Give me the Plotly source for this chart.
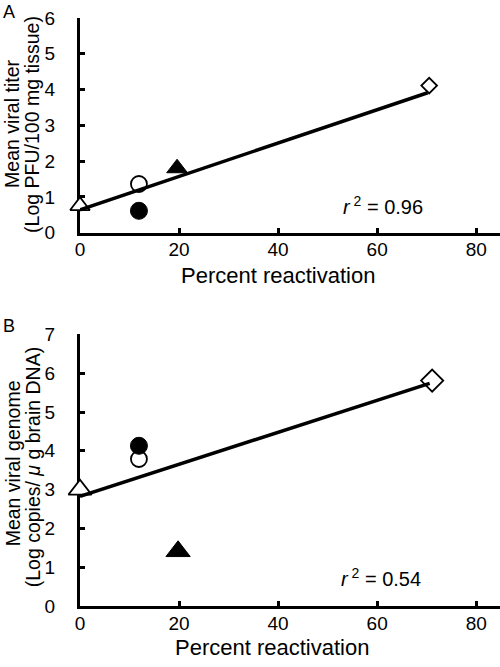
import plotly.graph_objects as go

# ---------------- data ----------------
# Panel A: mean viral titer (Log PFU/100 mg tissue) vs percent reactivation
a_open_tri = ([0.0], [0.75])
a_open_circ = ([11.9], [1.36])
a_fill_circ = ([11.9], [0.61])
a_fill_tri = ([19.6], [1.8])
a_diamond = ([70.5], [4.11])
a_fit_x = [0.0, 70.2]
a_fit_y = [0.64, 3.91]
a_r2 = "0.96"

# Panel B: mean viral genome (Log copies/ug brain DNA) vs percent reactivation
b_open_tri = ([0.0], [3.0])
b_open_circ = ([11.9], [3.79])
b_fill_circ = ([11.9], [4.13])
b_fill_tri = ([19.8], [1.41])
b_diamond = ([71.1], [5.81])
b_fit_x = [0.0, 70.6]
b_fit_y = [2.83, 5.74]
b_r2 = "0.54"

x_ticks = [0, 20, 40, 60, 80]
a_y_ticks = [0, 1, 2, 3, 4, 5, 6]
b_y_ticks = [0, 1, 2, 3, 4, 5, 6, 7]
a_y_range = [0, 6]
b_y_range = [0, 7]

# ---------------- layout geometry ----------------
W, H = 500, 667
L, R, T, B = 79.5, 0, 17.5, 60.5
PW = W - L - R
PH = H - T - B

def px(x):
    return (x - L) / PW

def py(y):
    return (H - B - y) / PH

FONT = "Liberation Sans, Arial, Helvetica, sans-serif"

fig = go.Figure()

def add_panel(xa, ya, open_tri, open_circ, fill_circ, fill_tri, diamond, fx, fy, tri_size, dia_size):
    kw = dict(xaxis=xa, yaxis=ya, mode="markers", showlegend=False, cliponaxis=False, hoverinfo="skip")
    fig.add_trace(go.Scatter(x=open_tri[0], y=open_tri[1],
                             marker=dict(symbol="triangle-up", size=tri_size, color="white",
                                         line=dict(color="black", width=1.8)), **kw))
    fig.add_trace(go.Scatter(x=open_circ[0], y=open_circ[1],
                             marker=dict(symbol="circle", size=16, color="white",
                                         line=dict(color="black", width=1.8)), **kw))
    fig.add_trace(go.Scatter(x=fill_circ[0], y=fill_circ[1],
                             marker=dict(symbol="circle", size=17, color="black",
                                         line=dict(color="black", width=1)), **kw))
    fig.add_trace(go.Scatter(x=fill_tri[0], y=fill_tri[1],
                             marker=dict(symbol="triangle-up", size=tri_size + 1, color="black",
                                         line=dict(color="black", width=1)), **kw))
    fig.add_trace(go.Scatter(x=diamond[0], y=diamond[1],
                             marker=dict(symbol="diamond-open", size=dia_size, color="black",
                                         line=dict(color="black", width=1.8)), **kw))
    fig.add_trace(go.Scatter(x=fx, y=fy, xaxis=xa, yaxis=ya, mode="lines", showlegend=False,
                             cliponaxis=False, hoverinfo="skip",
                             line=dict(color="black", width=3.5)))

add_panel("x", "y", a_open_tri, a_open_circ, a_fill_circ, a_fill_tri, a_diamond, a_fit_x, a_fit_y, 17, 12)
add_panel("x2", "y2", b_open_tri, b_open_circ, b_fill_circ, b_fill_tri, b_diamond, b_fit_x, b_fit_y, 20, 17)

# empty traces so the overlay tick axes are created
fig.add_trace(go.Scatter(x=[], y=[], xaxis="x", yaxis="y3", showlegend=False, hoverinfo="skip"))
fig.add_trace(go.Scatter(x=[], y=[], xaxis="x2", yaxis="y4", showlegend=False, hoverinfo="skip"))

tickfont = dict(family=FONT, size=19, color="black")
x_common = dict(showgrid=False, zeroline=False, showline=True, linecolor="black", linewidth=3,
                ticks="inside", ticklen=5, tickwidth=2.5, tickcolor="black",
                tickfont=tickfont, layer="below traces", fixedrange=True,
                range=[0, 84.8], tickvals=x_ticks, ticklabelstandoff=-2)
# y axes carrying the labels (transparent outside ticks set the label gap)
y_label = dict(showgrid=False, zeroline=False, showline=True, linecolor="black", linewidth=3,
               ticks="outside", ticklen=18, tickwidth=1, tickcolor="rgba(0,0,0,0)",
               tickfont=tickfont, layer="below traces", fixedrange=True)
# overlay y axes carrying the inside tick marks
y_tick = dict(showgrid=False, zeroline=False, showline=False, showticklabels=False,
              ticks="inside", ticklen=5, tickwidth=2.5, tickcolor="black",
              layer="below traces", fixedrange=True)

a_bottom = py(231 + 1.5)
b_top = py(334.5)

fig.update_layout(
    width=W, height=H,
    margin=dict(l=L, r=R, t=T, b=B, pad=0),
    paper_bgcolor="white", plot_bgcolor="white",
    font=dict(family=FONT, color="black"),
    xaxis=dict(domain=[0, 1], anchor="y", **x_common),
    yaxis=dict(domain=[a_bottom, 1], range=a_y_range, tickvals=a_y_ticks, anchor="x", **y_label),
    yaxis3=dict(overlaying="y", anchor="x", range=a_y_range, tickvals=a_y_ticks, **y_tick),
    xaxis2=dict(domain=[0, 1], anchor="y2", **x_common),
    yaxis2=dict(domain=[0, b_top], range=b_y_range, tickvals=b_y_ticks, anchor="x2", **y_label),
    yaxis4=dict(overlaying="y2", anchor="x2", range=b_y_range, tickvals=b_y_ticks, **y_tick),
)

def ann(text, x, y, size, angle=0, xanchor="center"):
    fig.add_annotation(text=text, x=px(x), y=py(y), xref="paper", yref="paper",
                       showarrow=False, xanchor=xanchor, yanchor="middle", textangle=angle,
                       font=dict(family=FONT, size=size, color="black"))

# panel labels
ann("A", 8.5, 11, 18)
ann("B", 8.5, 326.5, 18)

# x titles
ann("Percent reactivation", 278, 275, 22)
ann("Percent reactivation", 272, 648, 22)

# y titles
ann("Mean viral titer", 12, 124, 19.5, angle=-90)
ann("(Log PFU/100 mg tissue)", 32, 124, 19.5, angle=-90)
ann("Mean viral genome", 12, 464, 19.5, angle=-90)
ann("(Log copies/ <i>μ</i> g brain DNA)", 32, 468, 19.5, angle=-90)

# r^2
ann("<i>r</i><sup> 2</sup> = " + a_r2, 341, 205, 20, xanchor="left")
ann("<i>r</i><sup> 2</sup> = " + b_r2, 339, 578, 20, xanchor="left")

fig.write_html("out.html", config={"displayModeBar": False},
               post_script="document.body.style.margin='0';")
